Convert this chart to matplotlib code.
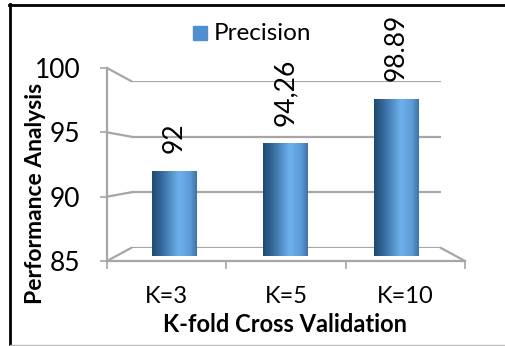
import numpy as np
import matplotlib.pyplot as plt
from matplotlib.lines import Line2D
from matplotlib.colors import LinearSegmentedColormap

categories = ["K=3", "K=5", "K=10"]
heights = [92, 94.26, 97.9]          # bar heights as drawn
value_labels = ["92", "94,26", "98.89"]  # label text as printed
yticks = [85, 90, 95, 100]

W, H = 506, 346
plt.rcParams['font.family'] = ['Lato', 'DejaVu Sans']
fig = plt.figure(figsize=(W / 100, H / 100), dpi=100)

def fx(x):
    return x / W

def fy(y):
    return 1 - y / H

grid_c = "#a6a6a6"

# back wall (gridlines)
back = fig.add_axes([fx(131), fy(248), fx(441) - fx(131), fy(81) - fy(248)])
back.set_ylim(85, 100)
back.set_xlim(0, 1)
back.axis("off")
for t in yticks:
    back.axhline(t, color=grid_c, lw=1.6, zorder=1)

# front axis with labels
front = fig.add_axes([fx(107), fy(261), fx(465) - fx(107), fy(68) - fy(261)])
front.patch.set_visible(False)
front.set_ylim(85, 100)
front.set_xlim(-0.5, 2.5)
front.set_yticks(yticks)
front.set_yticklabels([str(t) for t in yticks], fontsize=19)
front.set_xticks(range(len(categories)))
front.set_xticklabels(categories, fontsize=17)
front.set_xticks([-0.5, 0.5, 1.5, 2.5], minor=True)
front.tick_params(axis="x", which="major", length=0, pad=18)
front.tick_params(axis="x", which="minor", length=6, color=grid_c, width=1.2)
front.tick_params(axis="y", length=5, color=grid_c, width=1.2, pad=14)
for s in ["top", "right"]:
    front.spines[s].set_visible(False)
for s in ["left", "bottom"]:
    front.spines[s].set_color(grid_c)
    front.spines[s].set_linewidth(1.6)
fig.text(fx(36), fy(193), "Performance Analysis", fontsize=16.5, fontweight="bold",
         rotation=90, ha="center", va="center")
fig.text(fx(285), fy(324), "K-fold Cross Validation", fontsize=17, fontweight="bold",
         ha="center", va="center")

# side wall and floor edges
for t in yticks:
    yf = 261 - (t - 85) * (261 - 68) / 15
    yb = 248 - (t - 85) * (248 - 81) / 15
    fig.lines.append(Line2D([fx(107), fx(131)], [fy(yf), fy(yb)], transform=fig.transFigure,
                            color=grid_c, lw=1.6))
fig.lines.append(Line2D([fx(441), fx(465)], [fy(248), fy(261)], transform=fig.transFigure,
                        color=grid_c, lw=1.6))

# bars (mid plane)
bars = fig.add_axes([fx(119), fy(256), fx(452) - fx(119), fy(74) - fy(256)])
bars.set_xlim(-0.5, 2.5)
bars.set_ylim(85, 100)
bars.axis("off")
cmap = LinearSegmentedColormap.from_list("cyl", [
    (0.0, "#1f4a70"), (0.2, "#35679a"), (0.6, "#6cb2ee"), (0.85, "#5d9ad6"), (1.0, "#3e73a8")])
grad = np.linspace(0, 1, 200).reshape(1, -1)
w = 0.40
for i, (h, lab) in enumerate(zip(heights, value_labels)):
    bars.imshow(grad, cmap=cmap, extent=[i - w / 2, i + w / 2, 85, h], aspect="auto",
                interpolation="bilinear", zorder=3)
    bars.annotate(lab, (i, h), xytext=(0, 13), textcoords="offset points",
                  rotation=90, ha="center", va="bottom", fontsize=19)
bars.set_xlim(-0.5, 2.5)
bars.set_ylim(85, 100)

# legend
fig.patches.append(plt.Rectangle((fx(193), fy(40)), fx(14), fy(26) - fy(40),
                                 transform=fig.transFigure, color="#4f8fd0"))
fig.text(fx(214), fy(33), "Precision", fontsize=17.5, va="center", ha="left")

# outer border
fig.lines.append(Line2D([fx(9), 1], [fy(4.5), fy(4.5)], transform=fig.transFigure, color="black", lw=2))
fig.lines.append(Line2D([fx(10), fx(10)], [fy(4), 0], transform=fig.transFigure, color="black", lw=2))
fig.lines.append(Line2D([fx(10), 1], [fy(345), fy(345)], transform=fig.transFigure, color="#bbbbbb", lw=1))

fig.savefig("out.png", dpi=100)
